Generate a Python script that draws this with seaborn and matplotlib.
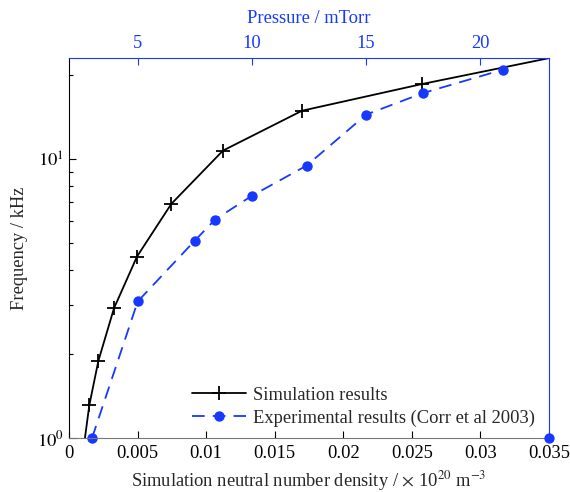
import numpy as np
import pandas as pd
import matplotlib
matplotlib.use("Agg")
import matplotlib.pyplot as plt
import seaborn as sns

# --- data ---
sim_density = [0.0009, 0.00148, 0.00214, 0.00328, 0.00496, 0.00746, 0.01123, 0.01699, 0.02572, 0.0400]
sim_freq = [0.80, 1.31, 1.89, 2.92, 4.48, 6.92, 10.75, 14.94, 18.62, 25.9]

exp_density = [0.00168, 0.00501, 0.00916, 0.01065, 0.01332, 0.01733, 0.02168, 0.02581, 0.03162]
exp_freq = [1.00, 3.09, 5.10, 6.08, 7.39, 9.50, 14.48, 17.29, 20.96]

x_ticks = [0, 0.005, 0.01, 0.015, 0.02, 0.025, 0.03, 0.035]
x_ticklabels = ["0", "0.005", "0.01", "0.015", "0.02", "0.025", "0.03", "0.035"]
p_ticks = [5, 10, 15, 20]
p_ticklabels = ["5", "10", "15", "20"]
stray_pressure = [23]
stray_freq = [1.0]

BLUE = "#1638ff"
FS = 13.3

sns.set_style("ticks")
plt.rcParams["font.family"] = ["Liberation Serif", "DejaVu Serif"]
plt.rcParams["mathtext.fontset"] = "stix"

fig = plt.figure(figsize=(5.70, 4.92), dpi=100)
ax = fig.add_axes([69/570, 54/492, 480/570, 380/492])

sim_df = pd.DataFrame({"x": sim_density, "y": sim_freq})
exp_df = pd.DataFrame({"x": exp_density, "y": exp_freq})

sns.lineplot(data=sim_df, x="x", y="y", sort=False, ax=ax, color="black",
             marker="+", markersize=10, markeredgewidth=1.3,
             markeredgecolor="black", linewidth=1.3,
             label="Simulation results")
sns.lineplot(data=exp_df, x="x", y="y", sort=False, ax=ax, color=BLUE,
             marker="o", markersize=7.5, markeredgewidth=0, linewidth=1.3,
             linestyle=(0, (7, 4.5)), clip_on=False,
             label="Experimental results (Corr et al 2003)")

ax.set_yscale("log")
ax.set_xlim(0, 0.035)
ax.set_ylim(1.0, 23.1)
ax.set_xticks(x_ticks)
ax.set_xticklabels(x_ticklabels)
ax.set_yticks([1, 10])
ax.set_yticklabels([r"$10^0$", r"$10^1$"])
ax.tick_params(axis="both", which="both", direction="in", labelsize=FS,
               right=False, top=False, colors="black")
ax.tick_params(axis="y", which="major", length=5, width=0.8, pad=4)
ax.tick_params(axis="y", which="minor", length=3, width=0.8)
ax.tick_params(axis="x", which="major", length=5, width=0.8, pad=5)
ax.set_xlabel(r"Simulation neutral number density / $\times$ 10$^{20}$ m$^{-3}$",
              fontsize=FS, labelpad=5)
ax.set_ylabel("Frequency / kHz", fontsize=FS, labelpad=6)
ax.spines["bottom"].set_color("#777777")
ax.spines["left"].set_color("black")
for s in ["top", "right"]:
    ax.spines[s].set_visible(False)

leg = ax.legend(loc="lower left", bbox_to_anchor=(0.222, -0.014), frameon=False,
                fontsize=FS, handlelength=2.9, handletextpad=0.4,
                labelspacing=0.3)

ax2 = ax.twiny()
ax2.set_xlim(2, 23)
ax2.set_xticks(p_ticks)
ax2.set_xticklabels(p_ticklabels)
sns.scatterplot(x=stray_pressure, y=stray_freq, ax=ax2, color=BLUE, s=55,
                linewidth=0, clip_on=False, zorder=5)
ax2.tick_params(axis="x", which="both", direction="in", colors=BLUE,
                labelsize=FS, length=5, width=0.8, top=True, bottom=False, pad=4)
ax2.set_xlabel("Pressure / mTorr", color=BLUE, fontsize=FS, labelpad=9)
for s in ["top", "right"]:
    ax2.spines[s].set_visible(True)
    ax2.spines[s].set_color(BLUE)
ax2.spines["bottom"].set_visible(False)
ax2.spines["left"].set_visible(False)

fig.savefig("out.png", dpi=100)
